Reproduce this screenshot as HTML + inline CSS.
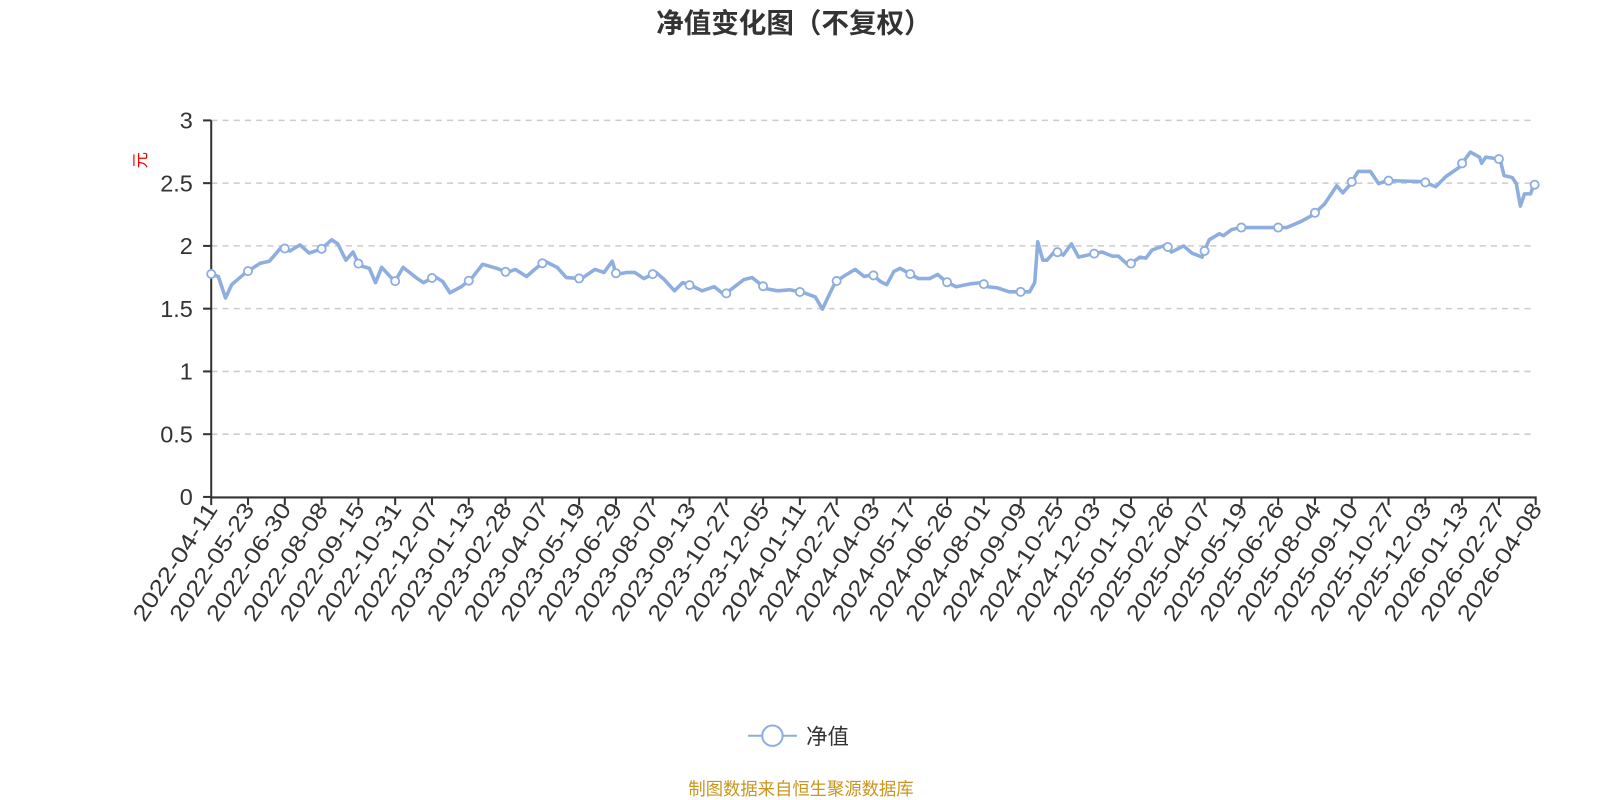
<!DOCTYPE html>
<html><head><meta charset="utf-8"><style>
body{margin:0;background:#fff;}
svg{display:block;font-family:"Liberation Sans","Noto Sans CJK SC",sans-serif;}
</style></head><body>
<svg width="1600" height="800" xmlns="http://www.w3.org/2000/svg">
<g transform="scale(1.0204)">
<text x="778" y="32" text-anchor="middle" font-size="27" font-weight="bold" fill="#333">净值变化图（不复权）</text>
<text x="0" y="0" transform="translate(143,157) rotate(-90)" text-anchor="middle" font-size="16" fill="#e00">元</text>
<g id="grid"></g>
<line x1="207" y1="118" x2="207" y2="488" stroke="#333" stroke-width="2"/>
<line x1="207" y1="487.5" x2="1506" y2="487.5" stroke="#333" stroke-width="2"/>
<g id="xl"></g>
<polyline id="ln" fill="none" stroke="#8eaee0" stroke-width="3.5" stroke-linejoin="round"/>
<g id="mk"></g>
<line x1="733" y1="721" x2="781" y2="721" stroke="#8eaee0" stroke-width="2"/>
<circle cx="757" cy="721" r="10" fill="#fff" stroke="#8eaee0" stroke-width="2"/>
<text x="790" y="729" font-size="21" fill="#333">净值</text>
<text x="785" y="779" text-anchor="middle" font-size="17" fill="#c8961e">制图数据来自恒生聚源数据库</text>
</g>
</svg>
<script>
var NS="http://www.w3.org/2000/svg";
function el(t,a,p,txt){var e=document.createElementNS(NS,t);for(var k in a)e.setAttribute(k,a[k]);if(txt)e.textContent=txt;document.getElementById(p).appendChild(e);return e;}
var ticks=["3","2.5","2","1.5","1","0.5","0"];
for(var i=0;i<7;i++){var y=118+i*61.5;
 if(i<6)el("line",{x1:207,y1:y,x2:1505,y2:y,stroke:"#ccc","stroke-dasharray":"6,5","stroke-width":1.5},"grid");
 el("line",{x1:199,y1:y,x2:207,y2:y,stroke:"#333","stroke-width":2},"grid");
 el("text",{x:189,y:y+8,"text-anchor":"end","font-size":23,fill:"#333"},"grid",ticks[i]);}
var d=["2022-04-11","2022-05-23","2022-06-30","2022-08-08","2022-09-15","2022-10-31","2022-12-07","2023-01-13","2023-02-28","2023-04-07","2023-05-19","2023-06-29","2023-08-07","2023-09-13","2023-10-27","2023-12-05","2024-01-11","2024-02-27","2024-04-03","2024-05-17","2024-06-26","2024-08-01","2024-09-09","2024-10-25","2024-12-03","2025-01-10","2025-02-26","2025-04-07","2025-05-19","2025-06-26","2025-08-04","2025-09-10","2025-10-27","2025-12-03","2026-01-13","2026-02-27","2026-04-08"];
var sp=(1505-207)/36;
for(var i=0;i<37;i++){var x=207+i*sp;
 el("line",{x1:x,y1:488,x2:x,y2:495,stroke:"#333","stroke-width":2},"xl");
 el("text",{x:0,y:0,transform:"translate("+(x+7)+",499) rotate(-57)","text-anchor":"end","font-size":22,fill:"#333",textLength:133,lengthAdjust:"spacingAndGlyphs"},"xl",d[i]);}
var p=[[207,268.5],[214,271],[221,292],[227,279],[241,267],[255,258],[264,256],[276,242],[284,246],[294,240],[303,248],[315,244],[325,235],[331,239],[339,255],[346,247],[352,260],[362,263],[368,277],[374,262],[387,276],[395,262],[409,273],[415,277],[426,271],[434,276],[441,287],[452,281],[462,273],[473,259],[487,263],[497,267],[505,264],[516,271],[524,264],[534,256],[546,262],[555,272],[570,273],[583,264],[592,267],[600,256],[604,269],[614,267],[622,267],[631,273],[643,267],[651,274],[661,285],[669,277],[680,281],[688,285],[700,281],[710,289],[716,284],[729,274],[737,272],[751,283],[762,285],[774,284],[788,287],[799,291],[806,303],[813,288],[819,276],[828,270],[838,264],[847,271],[855,269],[863,276],[869,279],[876,266],[882,263],[891,268],[900,273],[911,273],[919,269],[927,276],[937,281],[952,278],[962,277],[968,281],[977,282],[989,286],[998,286],[1009,286],[1014,277],[1017,237],[1022,255],[1026,255],[1034,246],[1042,250],[1050,239],[1057,252],[1070,249],[1080,247],[1090,251],[1096,251],[1106,260],[1117,252],[1123,253],[1129,245],[1143,240],[1148,247],[1160,241],[1168,248],[1178,252],[1185,235],[1195,229],[1199,231],[1207,225],[1215,223],[1224,223],[1250,223],[1261,223],[1275,217],[1286,211],[1298,200],[1310,182],[1316,189],[1323,181],[1331,168],[1343,168],[1351,180],[1359,177],[1395,178],[1407,183],[1417,173],[1430,164],[1441,149],[1450,154],[1452,160],[1456,154],[1470,156],[1474,172],[1482,174],[1486,180],[1490,202],[1494,190],[1500,190],[1503,181],[1505,181]];
document.getElementById("ln").setAttribute("points",p.map(function(a){return a.join(",")}).join(" "));
function yat(x){for(var j=1;j<p.length;j++){if(p[j][0]>=x){var a=p[j-1],b=p[j];var t=(x-a[0])/((b[0]-a[0])||1);return a[1]+t*(b[1]-a[1]);}}return p[p.length-1][1];}
for(var i=0;i<37;i++){var x=207+i*sp;if(i==36)x=1504;
 el("circle",{cx:x,cy:yat(x),r:4,fill:"#fff",stroke:"#8eaee0","stroke-width":1.8},"mk");}
</script>
</body></html>
